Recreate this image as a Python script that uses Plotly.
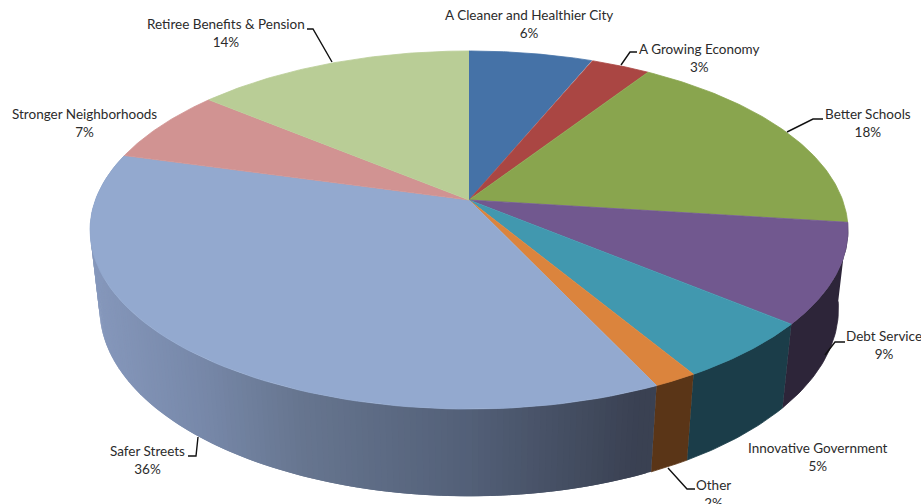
import numpy as np
import plotly.graph_objects as go

# slices, clockwise from 12 o'clock
categories = ['A Cleaner and Healthier City', 'A Growing Economy', 'Better Schools',
              'Debt Service', 'Innovative Government', 'Other', 'Safer Streets',
              'Stronger Neighborhoods', 'Retiree Benefits & Pension']
values = [6.2, 3.0, 17.8, 9.0, 5.4, 1.6, 36.3, 6.7, 14.0]

top_colors = ['#4572A7', '#AA4643', '#89A54E', '#71588F', '#4198AF', '#DB843D',
              '#93A9CF', '#D19392', '#B9CD96']
# only the front slices show a wall
wall_colors = {'Debt Service': '#2D2539', 'Innovative Government': '#1B3D49', 'Other': '#5A3517'}
safer_x = [95, 200, 300, 470, 640]
safer_rgb = [(134, 152, 188), (120, 137, 170), (103, 118, 144), (83, 96, 120), (58, 65, 82)]

# label centre (x, y) in px
label_pos = {'A Cleaner and Healthier City': (529, 24), 'A Growing Economy': (699, 58),
             'Better Schools': (868, 123), 'Debt Service': (884, 345),
             'Innovative Government': (818, 457), 'Other': (713, 494),
             'Safer Streets': (147, 460), 'Stronger Neighborhoods': (84, 123),
             'Retiree Benefits & Pension': (226, 33)}
leaders = [[(332, 62), (313, 29), (307, 29)],
           [(621, 65), (630, 52), (637, 52)],
           [(787, 132), (813, 119), (823, 119)],
           [(825, 355), (835, 342), (845, 342)],
           [(668, 468), (687, 489), (695, 489)],
           [(198, 437), (196, 456), (188, 456)]]

# perspective of the disc
CX, CY = 469, 200
A, B, K = 373.6, 174, 0.1676
DEPTH, SHRINK = 80, 0.025


def top_xy(t):
    w = 1 + K * np.cos(t)
    return CX + A * np.sin(t) / w, CY - B * np.cos(t) / w


def bottom_xy(t):
    w = 1 + K * np.cos(t) + SHRINK
    return CX + A * np.sin(t) / w, CY + (DEPTH - B * np.cos(t)) / w


def poly(x, y, color, stroke=0.8):
    return go.Scatter(x=x, y=y, mode='lines', fill='toself', fillcolor=color,
                      line=dict(color=color, width=stroke), hoverinfo='skip', showlegend=False)


edges = np.radians(np.concatenate([[0], np.cumsum(values)]) * 3.6)
fig = go.Figure()

# walls first, the top covers whatever is behind it
for i, name in enumerate(categories):
    if name == 'Safer Streets':
        # each band runs under the next one so no seams show
        step = np.radians(0.8)
        for t0 in np.arange(edges[i], edges[i + 1], step):
            t = np.linspace(t0, min(t0 + 2 * step, edges[i + 1]), 4)
            xt, yt = top_xy(t)
            xb, yb = bottom_xy(t[::-1])
            mx = (top_xy(t0 + step / 2)[0] + bottom_xy(t0 + step / 2)[0]) / 2
            rgb = [np.interp(mx, safer_x, [c[j] for c in safer_rgb]) for j in range(3)]
            fig.add_trace(poly(list(xt) + list(xb), list(yt) + list(yb),
                               'rgb(%d,%d,%d)' % tuple(rgb), stroke=0))
    elif name in wall_colors:
        t = np.linspace(edges[i], edges[i + 1], 30)
        xt, yt = top_xy(t)
        xb, yb = bottom_xy(t[::-1])
        fig.add_trace(poly(list(xt) + list(xb), list(yt) + list(yb), wall_colors[name]))

for i, name in enumerate(categories):
    t = np.linspace(edges[i], edges[i + 1], 80)
    x, y = top_xy(t)
    fig.add_trace(poly([CX] + list(x), [CY] + list(y), top_colors[i]))

for pts in leaders:
    fig.add_trace(go.Scatter(x=[p[0] for p in pts], y=[p[1] for p in pts], mode='lines',
                             line=dict(color='#111111', width=1.4), hoverinfo='skip', showlegend=False))

for name, val in zip(categories, values):
    lx, ly = label_pos[name]
    fig.add_annotation(x=lx, y=ly, text=f'{name}<br>{round(val)}%', showarrow=False,
                       xanchor='center', yanchor='middle', align='center',
                       font=dict(family='Lato', size=13.5, color='#2b2b2b'))

fig.update_layout(width=921, height=504, margin=dict(l=0, r=0, t=0, b=0, pad=0),
                  paper_bgcolor='white', plot_bgcolor='white', showlegend=False,
                  xaxis=dict(range=[0, 921], visible=False, fixedrange=True),
                  yaxis=dict(range=[504, 0], visible=False, fixedrange=True))
fig.write_html('out.html', config={'displayModeBar': False},
               post_script="document.body.style.margin='0';document.body.style.overflow='hidden';")
